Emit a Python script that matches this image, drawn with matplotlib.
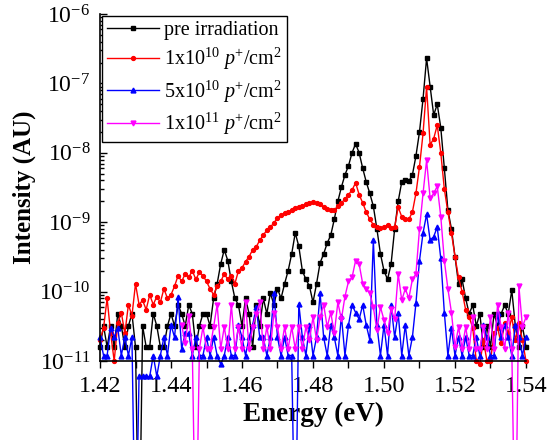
import numpy as np
import matplotlib
matplotlib.use('Agg')
import matplotlib.pyplot as plt
import matplotlib.ticker as mticker

plt.rcParams['font.family'] = 'Liberation Serif'
plt.rcParams['mathtext.fontset'] = 'custom'
plt.rcParams['mathtext.rm'] = 'Liberation Serif'
plt.rcParams['mathtext.it'] = 'Liberation Serif:italic'
plt.rcParams['mathtext.bf'] = 'Liberation Serif:bold'

# energie (eV), pas de 1 meV
energy = np.round(np.arange(1.420, 1.5405, 0.001), 3)

# intensites en unites de 1e-11 (0 = sous l'echelle log)
pre = np.array([
    1.6, 3.2, 1.6, 3.2, 1.6, 4.8, 3.2, 1.6, 3.2, 4.8,
    1.6, 0, 3.2, 1.6, 1.6, 4.8, 3.2, 1.6, 1.6, 3.2,
    4.8, 3.2, 6.4, 4.8, 3.2, 6.4, 4.8, 1.6, 3.2, 4.8,
    4.8, 3.2, 8, 13, 25, 40, 28, 14, 8, 6.4,
    3.2, 8, 4.8, 1.6, 6.4, 3.2, 8, 4.8, 9.6, 6.4,
    11, 8, 13, 20, 35, 70, 45, 20, 15, 12,
    7, 13, 26, 35, 50, 65, 110, 200, 320, 480,
    650, 1000, 1350, 1000, 600, 380, 260, 170, 80, 35,
    20, 15, 25, 80, 200, 380, 400, 390, 480, 900,
    2000, 6000, 23000, 9000, 3500, 5000, 2300, 600, 150, 80,
    32, 13, 15, 8, 4.8, 6.4, 3.2, 4.8, 1.6, 3.2,
    1.6, 4.8, 3.2, 4.8, 6.4, 4.8, 10.5, 3.2, 1.6, 3.2,
    1.6])

irr_1e10 = np.array([
    2.0, 3.0, 8.0, 2.5, 1.0, 3.5, 5.0, 2.5, 6.5, 4.5,
    13, 6.5, 7.5, 5.5, 9, 6.5, 8.5, 7, 11, 8,
    9, 12, 17, 14, 18, 16, 20, 15, 19, 17,
    14, 11, 9, 12, 14, 18, 15, 17, 13, 20,
    22, 27, 32, 40, 44, 55, 65, 77, 85, 98,
    115, 127, 135, 140, 150, 160, 165, 170, 180, 190,
    195, 190, 180, 165, 155, 150, 150, 170, 190, 215,
    250, 290, 370, 250, 190, 140, 110, 92, 85, 82,
    84, 92, 82, 85, 165, 120, 110, 110, 140, 260,
    630, 1900, 8900, 1300, 1600, 2500, 1000, 300, 140, 70,
    32, 16, 10, 5.5, 4.3, 3.0, 1.0, 0.9, 2.0, 1.0,
    1.0, 2.5, 3.0, 1.8, 3.5, 2.5, 4.3, 2.0, 3.5, 2.0,
    1.0])

irr_5e10 = np.array([
    2.2, 1.2, 1.2, 3.0, 2.2, 3.0, 1.2, 2.2, 1.2, 2.2,
    0, 0.6, 0.6, 0.6, 0.6, 1.2, 0.6, 1.2, 2.2, 1.2,
    3.3, 2.2, 8.4, 1.5, 2.5, 2.5, 1.2, 2.2, 1.2, 1.2,
    2.2, 1.2, 2.2, 1.2, 0.9, 1.2, 2.2, 1.2, 1.2, 3.3,
    2.2, 1.2, 2.2, 3.3, 6.0, 2.2, 2.2, 1.2, 2.2, 9.5,
    2.2, 1.2, 2.2, 1.2, 1.2, 0, 6.7, 2.2, 1.2, 3.3,
    1.2, 2.2, 9.5, 2.2, 1.2, 3.3, 2.2, 1.2, 4.5, 1.2,
    3.3, 6.4, 5.0, 4.0, 6.4, 3.3, 2.0, 55, 3.3, 1.2,
    3.3, 1.2, 6.4, 2.2, 4.9, 1.2, 3.3, 1.2, 2.2, 6.8,
    28, 70, 130, 55, 62, 85, 30, 5, 1.2, 3.0,
    1.2, 2.2, 1.2, 2.2, 1.2, 1.2, 2.2, 1.2, 3.3, 2.2,
    1.2, 1.2, 5.0, 2.2, 3.3, 2.2, 1.2, 3.3, 2.2, 1.2,
    2.2])

nan = np.nan
irr_1e11 = np.array([
    nan, nan, nan, nan, nan, nan, nan, nan, nan, nan,
    nan, nan, nan, nan, nan, nan, nan, nan, nan, nan,
    nan, nan, nan, 3.3, 1.8, 4.5, 1.5, 0, 1.5, 3.1,
    1.5, 1.5, 3.1, 6.5, 1.5, 3.1, 1.5, 6.5, 1.5, 3.1,
    1.5, 7.0, 1.5, 3.1, 4.8, 7.0, 1.5, 3.1, 1.5, 5.0,
    3.1, 1.5, 3.1, 1.5, 3.1, 1.5, 3.1, 1.5, 3.1, 2.0,
    4.3, 2.0, 4.3, 6.5, 3.1, 5.0, 2.5, 7.0, 4.0, 8.5,
    14, 16, 28, 25, 13, 11, 9.5, 6, 2.8, 6,
    3.9, 2.5, 5.6, 4, 18, 7.5, 11, 8, 15, 18,
    80, 260, 780, 220, 260, 330, 120, 28, 11, 5,
    1.6, 3.1, 1.5, 3.1, 1.5, 4.3, 1.5, 1.5, 3.1, 1.5,
    4.3, 1.5, 6.5, 3.1, 1.5, 5.0, 1.5, 0, 12, 3.1,
    4.3])

labels = ['pre irradiation',
          r'1x10$^{10}$ $p^{+}$/cm$^{2}$',
          r'5x10$^{10}$ $p^{+}$/cm$^{2}$',
          r'1x10$^{11}$ $p^{+}$/cm$^{2}$']

series = [pre, irr_1e10, irr_5e10, irr_1e11]
colors = ['black', 'red', 'blue', 'magenta']
markers = ['s', 'o', '^', 'v']
msizes = [2.5, 2.8, 3.5, 3.5]

fig = plt.figure(figsize=(5.51, 4.40), dpi=100)
ax = fig.add_axes([0.1815, 0.1795, 0.7731, 0.7887])

for s, c, m, ms, lab in zip(series, colors, markers, msizes, labels):
    y = s * 1e-11
    y = np.where(y <= 0, 1e-14, y)  # zeros -> tombent hors du cadre
    ax.plot(energy, y, color=c, marker=m, markersize=ms, linewidth=1.0,
            label=lab, clip_on=False)

ax.set_yscale('log')
ax.set_xlim(1.42, 1.54)
ax.set_ylim(1e-11, 1e-6)

ax.xaxis.set_major_locator(mticker.MultipleLocator(0.02))
ax.xaxis.set_minor_locator(mticker.MultipleLocator(0.01))
ax.xaxis.set_major_formatter(mticker.FormatStrFormatter('%.2f'))
ax.yaxis.set_major_locator(mticker.FixedLocator([1e-11, 1e-10, 1e-9, 1e-8, 1e-7, 1e-6]))
ax.yaxis.set_minor_locator(mticker.LogLocator(base=10, subs=np.arange(2, 10), numticks=20))

ax.tick_params(axis='x', which='both', direction='out', length=5, width=1,
               labelsize=17.5, pad=5.5)
ax.tick_params(axis='y', which='major', direction='in', length=5, width=1,
               labelsize=17, pad=7)
ax.tick_params(axis='y', which='minor', direction='in', length=3, width=1)

ax.spines['top'].set_visible(False)
ax.spines['right'].set_visible(False)
for sp in ['left', 'bottom']:
    ax.spines[sp].set_linewidth(1.2)

ax.set_xlabel('Energy (eV)', fontsize=19.5, fontweight='bold', labelpad=4)
ax.set_ylabel('Intensity (AU)', fontsize=18, fontweight='bold', labelpad=2)

leg = ax.legend(loc='upper left', fontsize=14.5, frameon=True, fancybox=False,
                edgecolor='black', framealpha=1, borderpad=0.25,
                labelspacing=0.3, handlelength=2.6, handletextpad=0.25,
                borderaxespad=0.1, markerscale=1.0)
leg.get_frame().set_linewidth(1.0)

fig.savefig('out.png', dpi=100)
